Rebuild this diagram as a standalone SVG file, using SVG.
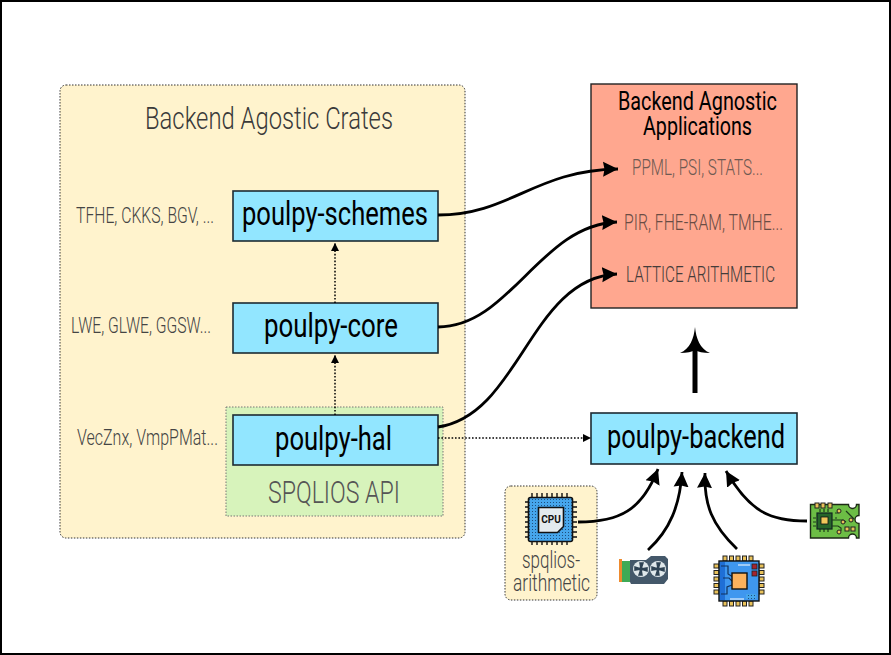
<svg xmlns="http://www.w3.org/2000/svg" width="891" height="655" viewBox="0 0 891 655">
<style>
text{font-family:"Roboto","Liberation Sans",sans-serif}
.panel{fill:#fff3cd;stroke:#333;stroke-width:1;stroke-dasharray:1.5 1.5}
.box{fill:#92e6ff;stroke:#1d2b33;stroke-width:1.6}
.name{font-size:33px;font-weight:400;fill:#000}
.side{font-size:21.5px;font-weight:300;fill:#444}
.big{font-size:31px;font-weight:300;fill:#3a3a3a}
.conn{fill:none;stroke:#000;stroke-width:2.8}
.dot{fill:none;stroke:#000;stroke-width:1.5;stroke-dasharray:1.6 1.8}
.gold{fill:#e9c25a;stroke:#222;stroke-width:1}
.tr{fill:none;stroke:#1d3a1a;stroke-width:1.2}
</style>
<defs>
<marker id="head" markerUnits="userSpaceOnUse" markerWidth="17" markerHeight="18" refX="15" refY="9" orient="auto"><path d="M0,1.500 L15,9 L0,16.500 L1.500,9 Z" fill="#000"/></marker>
<marker id="small" markerUnits="userSpaceOnUse" markerWidth="10" markerHeight="10" refX="8" refY="5" orient="auto"><path d="M0,1 L8,5 L0,9 Z" fill="#000"/></marker>
<pattern id="dots" width="3" height="3" patternUnits="userSpaceOnUse"><rect width="3" height="3" fill="#46a6ec"/><rect x="1" y="1" width="1" height="1" fill="#1f4f7d"/></pattern>
</defs>
<rect x="1" y="1" width="889" height="653" fill="#fff" stroke="#000" stroke-width="2"/>

<g id="crates">
<rect class="panel" x="60" y="85" width="405" height="453" rx="6"/>
<text class="big" x="145" y="129" textLength="248" lengthAdjust="spacingAndGlyphs">Backend Agostic Crates</text>
<text class="side" x="76" y="223" textLength="138" lengthAdjust="spacingAndGlyphs">TFHE, CKKS, BGV, ...</text>
<text class="side" x="71" y="333" textLength="140" lengthAdjust="spacingAndGlyphs">LWE, GLWE, GGSW...</text>
<text class="side" x="77" y="445" textLength="141" lengthAdjust="spacingAndGlyphs">VecZnx, VmpPMat...</text>
</g>
<g id="spqlios-api">
<rect x="226" y="407" width="217" height="109" fill="#d7f3bb" stroke="#777" stroke-width="1" stroke-dasharray="1.5 1.5"/>
<text class="big" x="268" y="503" textLength="132" lengthAdjust="spacingAndGlyphs" style="fill:#555">SPQLIOS API</text>
</g>
<g id="applications">
<rect x="591" y="84" width="206" height="224" fill="#ffa78f" stroke="#222" stroke-width="1.4"/>
<text font-size="26" fill="#000"><tspan x="618" y="110" textLength="159" lengthAdjust="spacingAndGlyphs">Backend Agnostic</tspan><tspan x="643" y="135" textLength="109" lengthAdjust="spacingAndGlyphs">Applications</tspan></text>
<text x="632" y="175" font-size="21.5" font-weight="300" fill="#6f5a52" textLength="131" lengthAdjust="spacingAndGlyphs">PPML, PSI, STATS...</text>
<text x="624" y="230" font-size="21.5" font-weight="300" fill="#6a4c44" textLength="159" lengthAdjust="spacingAndGlyphs">PIR, FHE-RAM, TMHE...</text>
<text x="626" y="282" font-size="21.5" font-weight="300" fill="#443c3a" textLength="149" lengthAdjust="spacingAndGlyphs">LATTICE ARITHMETIC</text>
</g>
<g id="poulpy-schemes"><rect class="box" x="233" y="191" width="205" height="50"/><text class="name" x="242" y="225" textLength="186" lengthAdjust="spacingAndGlyphs">poulpy-schemes</text></g>
<g id="poulpy-core"><rect class="box" x="233" y="303" width="205" height="50"/><text class="name" x="264" y="337" textLength="134" lengthAdjust="spacingAndGlyphs">poulpy-core</text></g>
<g id="poulpy-hal"><rect class="box" x="233" y="415" width="205" height="50"/><text class="name" x="275" y="450" textLength="117" lengthAdjust="spacingAndGlyphs">poulpy-hal</text></g>
<g id="poulpy-backend"><rect class="box" x="591" y="413" width="206" height="51"/><text class="name" x="607" y="448" textLength="178" lengthAdjust="spacingAndGlyphs">poulpy-backend</text></g>

<g id="spqlios-arithmetic">
<rect class="panel" x="505" y="486" width="92" height="114" rx="6"/>
<text x="522" y="568" font-size="23" font-weight="300" fill="#444" textLength="58" lengthAdjust="spacingAndGlyphs">spqlios-</text>
<text x="513" y="591" font-size="23" font-weight="300" fill="#444" textLength="77" lengthAdjust="spacingAndGlyphs">arithmetic</text>
<g id="cpu-icon">
<path d="M532,493v52M537,493v52M542,493v52M547,493v52M552,493v52M557,493v52M562,493v52M567,493v52M525,502h52M525,507h52M525,512h52M525,517h52M525,522h52M525,527h52M525,532h52M525,537h52" stroke="#111" stroke-width="1.4" fill="none"/>
<rect x="528.500" y="497.500" width="44" height="44" rx="2" fill="url(#dots)" stroke="#111" stroke-width="1.600"/>
<path d="M538.500,507.500h25v19l-6,6h-19z" fill="#e3eaee" stroke="#111" stroke-width="1.600"/>
<text x="551" y="523" font-size="10" font-weight="700" text-anchor="middle" fill="#111">CPU</text>
</g>
</g>

<g id="gpu-icon">
<rect x="619" y="559" width="3" height="23" fill="#ee8a2e"/>
<rect x="622" y="561" width="8" height="21" fill="#3faa55"/>
<path d="M630,560h16l5,-4h14l3,3v20l-4,5h-33l-1,-2z" fill="#44586a"/>
<circle cx="641" cy="569" r="8" fill="#dfe7ea"/><circle cx="658" cy="569" r="8" fill="#dfe7ea"/>
<path d="M641,569l-1,-6h3zM641,569l6,-1v3zM641,569l1,6h-3zM641,569l-6,1v-3zM658,569l-1,-6h3zM658,569l6,-1v3zM658,569l1,6h-3zM658,569l-6,1v-3z" fill="#2f4354" stroke="#2f4354" stroke-width="1.500"/>
<circle cx="641" cy="569" r="2" fill="#2f4354"/><circle cx="658" cy="569" r="2" fill="#2f4354"/>
</g>

<g id="chip-icon">
<g class="gold">
<rect x="723" y="556" width="4" height="5"/><rect x="729.500" y="556" width="4" height="5"/><rect x="736" y="556" width="4" height="5"/><rect x="742.500" y="556" width="4" height="5"/><rect x="749" y="556" width="4" height="5"/>
<rect x="723" y="601" width="4" height="5"/><rect x="729.500" y="601" width="4" height="5"/><rect x="736" y="601" width="4" height="5"/><rect x="742.500" y="601" width="4" height="5"/><rect x="749" y="601" width="4" height="5"/>
<rect x="714" y="564" width="5" height="4"/><rect x="714" y="570.500" width="5" height="4"/><rect x="714" y="577" width="5" height="4"/><rect x="714" y="583.500" width="5" height="4"/><rect x="714" y="590" width="5" height="4"/>
<rect x="759" y="564" width="5" height="4"/><rect x="759" y="570.500" width="5" height="4"/><rect x="759" y="577" width="5" height="4"/><rect x="759" y="583.500" width="5" height="4"/><rect x="759" y="590" width="5" height="4"/>
</g>
<rect x="719" y="561" width="40" height="40" fill="#3f97ef" stroke="#111" stroke-width="1.400"/>
<rect x="720" y="562" width="5" height="38" fill="#1f6fd6"/>
<path d="M721,566h7v8l5,3M723,578h6l3,3M721,594h6v-7l5,-2" fill="none" stroke="#12325c" stroke-width="1.200"/>
<path d="M738,565h12M730,599h14" stroke="#fff" stroke-width="1.200"/>
<rect x="752" y="564" width="5" height="5" fill="#a5232f" stroke="#222" stroke-width=".8"/><rect x="752" y="571" width="5" height="5" fill="#a5232f" stroke="#222" stroke-width=".8"/>
<rect x="746" y="594" width="10" height="5" fill="url(#dots)"/>
<rect x="732" y="573" width="15" height="16" fill="#fbb15d" stroke="#111" stroke-width="1.400"/>
</g>

<g id="card-icon">
<path d="M810.500,504.500h38a4,4 0 0 0 8,0h2.500v11a4,4 0 0 0 0,8v14.500h-2.500a4,4 0 0 0 -8,0h-38z" fill="#6cbd45" stroke="#1c2a16" stroke-width="1.400"/>
<rect class="gold" x="815" y="503" width="4" height="5"/><rect class="gold" x="821" y="503" width="4" height="5"/><rect class="gold" x="828" y="503" width="4" height="5"/>
<path d="M816,518h-3M816,522h-3M816,526h-3M835,518h2M820,509v3M824,509v3M828,509v3M820,529v3M824,529v3M828,529v3" class="tr"/>
<rect x="817" y="513" width="15" height="16" fill="#27652a" stroke="#122" stroke-width="1.200"/>
<rect x="821" y="517" width="7" height="7" fill="#f1c65a" stroke="#111" stroke-width=".8"/>
<path d="M832,520h11l3,2M832,526h6l3,2v3M835,513h3v-4M846,511l8,8" class="tr"/>
<circle cx="839" cy="511" r="2" fill="#e9c25a" stroke="#222"/><circle cx="843" cy="522" r="2" fill="#e9c25a" stroke="#222"/><circle cx="851" cy="520" r="2" fill="#e9c25a" stroke="#222"/><circle cx="839" cy="532" r="2" fill="#e9c25a" stroke="#222"/>
<rect x="845" y="527" width="4" height="4" fill="#e9c25a" stroke="#222"/><rect x="851" y="527" width="4" height="4" fill="#e9c25a" stroke="#222"/>
</g>

<g id="connectors">
<path class="conn" d="M438,215 C510,215 535,170 618,169" marker-end="url(#head)"/>
<path class="conn" d="M438,327 C510,327 540,225 617,222" marker-end="url(#head)"/>
<path class="conn" d="M438,427 C520,415 530,278 617,274" marker-end="url(#head)"/>
<path class="dot" d="M335,415 V355" marker-end="url(#small)"/>
<path class="dot" d="M335,303 V243" marker-end="url(#small)"/>
<path class="dot" d="M438,438 H591" marker-end="url(#small)"/>
<path d="M695,393 V348" stroke="#000" stroke-width="5" fill="none"/>
<path d="M695,327 C696,338 700,349 710,353 C703,353 698,352 695,350 C692,352 687,353 680,353 C690,349 694,338 695,327 Z" fill="#000"/>
<path class="conn" d="M578,522 C620,522 642,510 658,469" marker-end="url(#head)"/>
<path class="conn" d="M648,550 C670,530 680,505 682,472" marker-end="url(#head)"/>
<path class="conn" d="M737,549 C712,525 704,505 705,473" marker-end="url(#head)"/>
<path class="conn" d="M807,521 C770,521 750,512 726,471" marker-end="url(#head)"/>
</g>
</svg>
